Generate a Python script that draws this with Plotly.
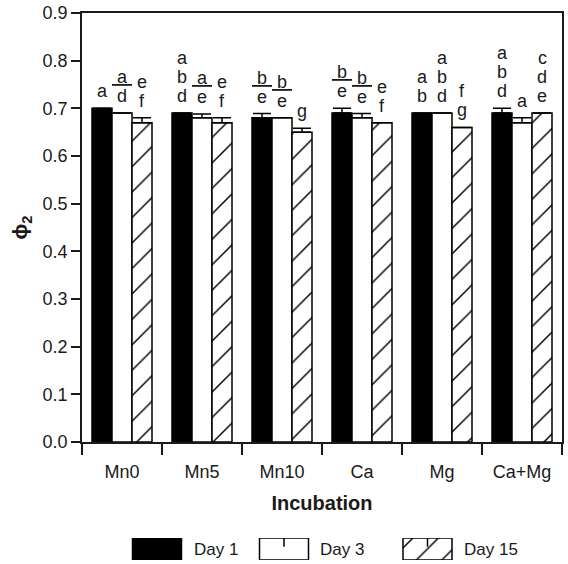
import plotly.graph_objects as go

categories = ["Mn0", "Mn5", "Mn10", "Ca", "Mg", "Ca+Mg"]
series_names = ["Day 1", "Day 3", "Day 15"]
day1 = [0.70, 0.69, 0.68, 0.69, 0.69, 0.69]
day3 = [0.69, 0.68, 0.68, 0.68, 0.69, 0.67]
day15 = [0.67, 0.67, 0.65, 0.67, 0.66, 0.69]
err1 = [0.0, 0.0, 0.009, 0.01, 0.0, 0.01]
err3 = [0.0, 0.008, 0.0, 0.009, 0.0, 0.01]
err15 = [0.01, 0.01, 0.008, 0.0, 0.0, 0.0]
# significance letters, top to bottom; "_" marks an underlined letter
letters1 = ["a", "a b d", "b_ e", "b_ e", "a b", "a b d"]
letters3 = ["a_ d", "a_ e", "b_ e", "b_ e", "a b d", "a"]
letters15 = ["e f", "e f", "g", "e f", "f g", "c d e"]
y_ticks = [0.0, 0.1, 0.2, 0.3, 0.4, 0.5, 0.6, 0.7, 0.8, 0.9]

FONT = "Liberation Sans, Arial, Helvetica, sans-serif"
INK = "#1a1a1a"
LETTER_SIZE = 18
LETTER_STEP = 19  # px between stacked letters

styles = [
    dict(color="black"),
    dict(color="white"),
    dict(color="white", pattern=dict(shape="/", size=18, solidity=0.08,
                                     fgcolor="black", fgopacity=1, bgcolor="white",
                                     fillmode="overlay")),
]

fig = go.Figure()
values = [day1, day3, day15]
errors = [err1, err3, err15]
letters = [letters1, letters3, letters15]
xs = list(range(len(categories)))

for k in range(3):
    m = dict(styles[k])
    m["line"] = dict(color="black", width=1.5)
    fig.add_trace(go.Bar(
        x=xs, y=values[k], name=series_names[k], marker=m,
        error_y=dict(type="data", symmetric=False, array=errors[k],
                     arrayminus=[0] * len(xs), color="black", thickness=1.5, width=9),
        showlegend=False, xaxis="x", yaxis="y",
    ))

bar_w = 0.25
for k in range(3):
    for i in xs:
        parts = letters[k][i].split()
        n = len(parts)
        for j, p in enumerate(parts):
            if p.endswith("_"):
                txt = "<u>\u00a0" + p[:-1] + "\u00a0</u>"
            else:
                txt = p
            fig.add_annotation(
                x=i + (k - 1) * bar_w, y=values[k][i] + errors[k][i],
                xref="x", yref="y", text=txt, showarrow=False,
                xanchor="center", yanchor="bottom",
                yshift=5 + (n - 1 - j) * LETTER_STEP,
                font=dict(family=FONT, size=LETTER_SIZE, color=INK),
            )

# legend drawn in a small helper subplot
leg_x = [157, 284, 427.5]
leg_w = 49
leg_text_x = [192, 318, 462]
for k in range(3):
    m = dict(styles[k])
    m["line"] = dict(color="black", width=1.5)
    fig.add_trace(go.Bar(x=[leg_x[k]], y=[1], width=[leg_w], marker=m,
                         showlegend=False, xaxis="x2", yaxis="y2", hoverinfo="skip"))
    fig.add_shape(type="line", xref="x2", yref="y2", x0=leg_x[k], x1=leg_x[k],
                  y0=1.0, y1=0.6, line=dict(color="black", width=1.5))
    fig.add_shape(type="line", xref="x2", yref="y2", x0=leg_x[k] - 6, x1=leg_x[k] + 6,
                  y0=1.07, y1=1.07, line=dict(color="black", width=2))
    fig.add_annotation(x=leg_text_x[k], y=0.5, xref="x2", yref="y2", text=series_names[k],
                       showarrow=False, xanchor="left", yanchor="middle",
                       font=dict(family=FONT, size=17, color=INK))

fig.update_layout(
    width=568, height=564,
    margin=dict(l=82, r=6, t=13, b=0, autoexpand=False),
    paper_bgcolor="white", plot_bgcolor="white",
    barmode="group", bargap=0.25, bargroupgap=0,
    font=dict(family=FONT, size=17, color=INK),
    xaxis=dict(
        domain=[0, 1], anchor="y", range=[-0.5, 5.5], automargin=False,
        tickvals=xs, ticktext=categories, ticks="outside", ticklen=13,
        tickcolor="rgba(0,0,0,0)", tickfont=dict(size=18, family=FONT, color=INK),
        minor=dict(tick0=-0.5, dtick=1, ticks="outside", ticklen=11,
                   tickwidth=1.5, tickcolor=INK, showgrid=False),
        showline=True, linecolor=INK, linewidth=1.5, mirror=True,
        showgrid=False, zeroline=False,
        title=dict(text="<b>Incubation</b>", font=dict(size=20, family=FONT, color=INK),
                   standoff=15),
    ),
    yaxis=dict(
        domain=[122 / 551, 1], anchor="x", range=[0, 0.9], automargin=False,
        tickvals=y_ticks, tickformat=".1f", ticks="outside", ticklen=9,
        tickwidth=1.5, tickcolor=INK, tickfont=dict(size=18, family=FONT, color=INK),
        showline=True, linecolor=INK, linewidth=1.5, mirror=True,
        showgrid=False, zeroline=False,
        title=dict(text="<b>\u03d5<sub>2</sub></b>", font=dict(size=21, family=FONT, color=INK),
                   standoff=9),
    ),
    xaxis2=dict(domain=[0, 1], anchor="y2", range=[82, 562], visible=False, automargin=False),
    yaxis2=dict(domain=[4 / 551, 26 / 551], anchor="x2", range=[0, 1], visible=False,
                automargin=False),
)

fig.write_html("out.html")
